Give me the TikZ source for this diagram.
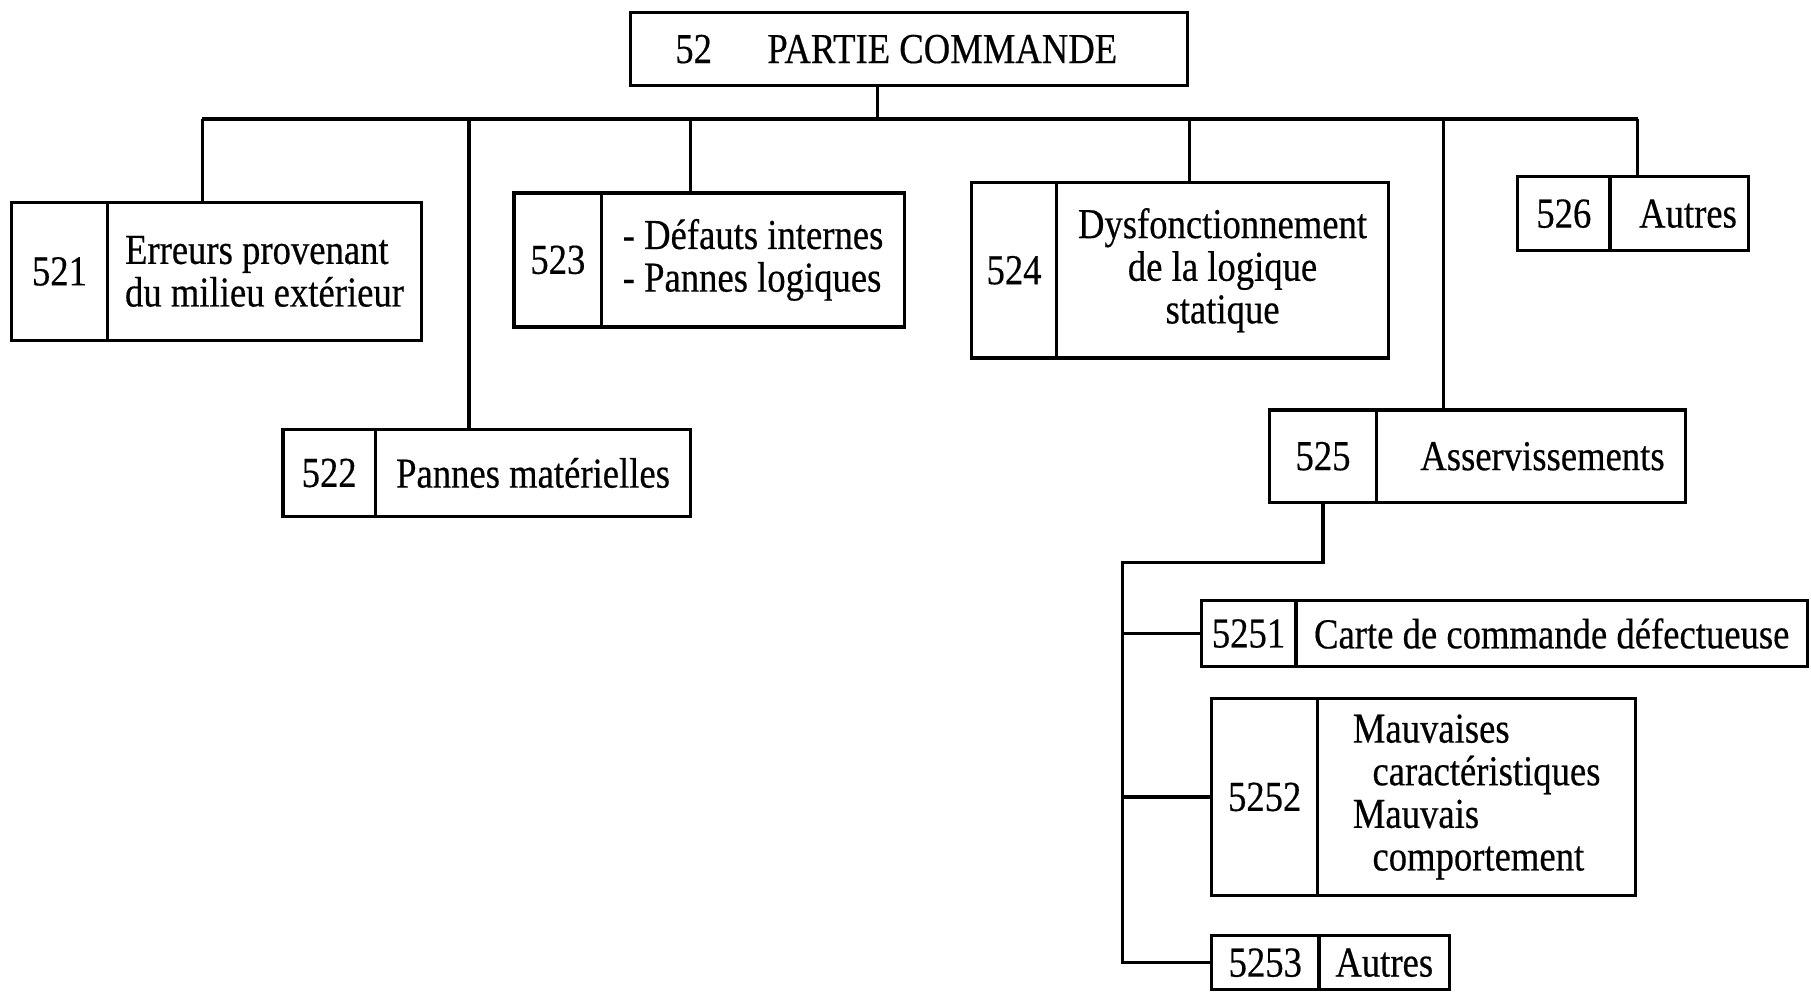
\documentclass[tikz,border=0pt]{standalone}
\usepackage{fontspec}
\setmainfont{Liberation Serif}[FakeStretch=0.86, FakeBold=0.4]
\usetikzlibrary{positioning}

\begin{document}
\begin{tikzpicture}[x=1cm, y=-1cm, line width=0.8pt,
    font=\fontsize{10.5pt}{10.5pt}\selectfont,
    numcell/.style={draw, outer sep=0pt, inner xsep=2pt, inner ysep=0pt, align=center},
    txtcell/.style={draw, outer sep=0pt, inner xsep=2pt, inner ysep=0pt, align=center}]
    \useasboundingbox (0,0) rectangle (15.68,8.59);

    % Root
    \node[draw, outer sep=0pt, minimum width=4.82cm, minimum height=0.63cm] (root) at (7.87,0.425)
        {52\hspace{0.48cm}PARTIE COMMANDE\hspace*{0.22cm}};

    % First level
    \node[numcell, minimum width=0.83cm, minimum height=1.20cm] (n521) at (0.515,2.35) {521};
    \node[txtcell, align=left, minimum width=2.72cm, minimum height=1.20cm, right=0pt of n521] (t521)
        {Erreurs provenant\\du milieu extérieur};

    \node[numcell, minimum width=0.80cm, minimum height=0.75cm] (n522) at (2.85,4.095) {522};
    \node[txtcell, minimum width=2.73cm, minimum height=0.75cm, right=0pt of n522] (t522)
        {Pannes matérielles};

    \node[numcell, minimum width=0.76cm, minimum height=1.16cm] (n523) at (4.83,2.25) {523};
    \node[txtcell, align=left, minimum width=2.62cm, minimum height=1.16cm, right=0pt of n523] (t523)
        {- Défauts internes\\- Pannes logiques};

    \node[numcell, minimum width=0.74cm, minimum height=1.52cm] (n524) at (8.78,2.34) {524};
    \node[txtcell, minimum width=2.87cm, minimum height=1.52cm, right=0pt of n524] (t524)
        {Dysfonctionnement\\de la logique\\statique};

    \node[numcell, minimum width=0.93cm, minimum height=0.80cm] (n525) at (11.455,3.95) {525};
    \node[txtcell, minimum width=2.67cm, minimum height=0.80cm, right=0pt of n525] (t525)
        {\hspace{0.2cm}Asservissements};

    \node[numcell, minimum width=0.80cm, minimum height=0.64cm] (n526) at (13.54,1.85) {526};
    \node[txtcell, minimum width=1.20cm, minimum height=0.64cm, right=0pt of n526] (t526)
        {\hspace{0.15cm}Autres};

    % Second level under 525
    \node[numcell, minimum width=0.82cm, minimum height=0.57cm] (n5251) at (10.81,5.485) {5251};
    \node[txtcell, minimum width=4.43cm, minimum height=0.57cm, right=0pt of n5251] (t5251)
        {Carte de commande défectueuse};

    \node[numcell, minimum width=0.92cm, minimum height=1.70cm] (n5252) at (10.95,6.90) {5252};
    \node[txtcell, align=left, minimum width=2.75cm, minimum height=1.70cm, right=0pt of n5252] (t5252)
        {Mauvaises\\\hspace*{0.17cm}caractéristiques\hspace*{0.2cm}\\Mauvais\\\hspace*{0.17cm}comportement};

    \node[numcell, minimum width=0.93cm, minimum height=0.47cm] (n5253) at (10.955,8.335) {5253};
    \node[txtcell, minimum width=1.13cm, minimum height=0.47cm, right=0pt of n5253] (t5253)
        {Autres};

    % Main bus
    \coordinate (stem) at (7.60,1.03);
    \coordinate (b521) at (1.75,1.03);
    \coordinate (b522) at (4.06,1.03);
    \coordinate (b523) at (5.98,1.03);
    \coordinate (b524) at (10.30,1.03);
    \coordinate (b525) at (12.50,1.03);
    \coordinate (b526) at (14.18,1.03);
    \draw (root.south -| stem) -- (stem);
    \draw (b521) -- (b526);
    \foreach \k in {521,522,523,524,525,526}
        \draw (b\k) -- (b\k |- t\k.north);

    % Sub-tree of 525
    \coordinate (spine) at (9.72,4.87);
    \draw (n525.south) |- (spine) -- (spine |- n5253.west) -- (n5253.west);
    \draw (spine |- n5251.west) -- (n5251.west);
    \draw (spine |- n5252.west) -- (n5252.west);
\end{tikzpicture}
\end{document}
